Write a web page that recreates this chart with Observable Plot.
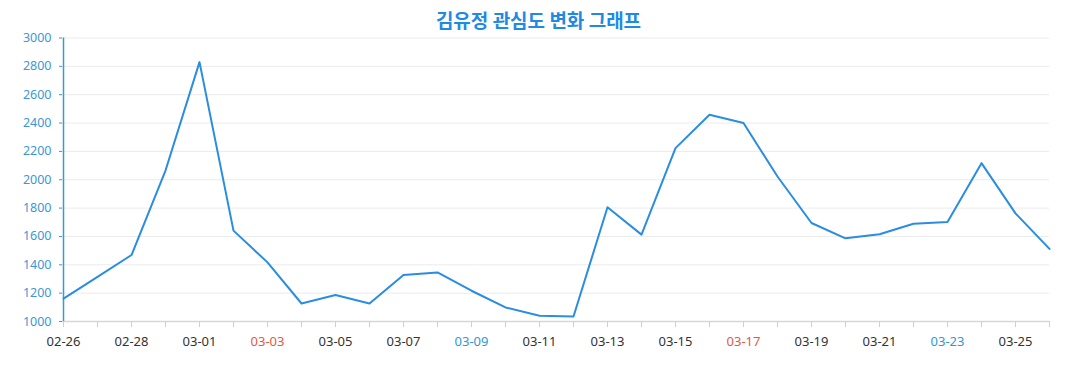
<!DOCTYPE html>
<html>
<head>
<meta charset="utf-8">
<script src="https://cdn.jsdelivr.net/npm/d3@7"></script>
<script src="https://cdn.jsdelivr.net/npm/@observablehq/plot@0.6"></script>
<style>
  html, body { margin: 0; padding: 0; background: #fff; }
  #wrap { position: relative; width: 1077px; height: 390px; }
  #title { position: absolute; left: 0; top: 6px; width: 1077px; text-align: center;
    font-family: "Noto Sans CJK KR", "Noto Sans", sans-serif; font-weight: 700; font-size: 19px; color: #1f8ae3; }
  #chart { position: absolute; left: 0; top: 0; }
</style>
</head>
<body>
<div id="wrap"><div id="chart"></div><div id="title">김유정 관심도 변화 그래프</div></div>
<script>
const dates = ["02-26","02-27","02-28","02-29","03-01","03-02","03-03","03-04","03-05","03-06",
  "03-07","03-08","03-09","03-10","03-11","03-12","03-13","03-14","03-15","03-16",
  "03-17","03-18","03-19","03-20","03-21","03-22","03-23","03-24","03-25","03-26"];
const values = [1162, 1315, 1469, 2065, 2830, 1641, 1417, 1127, 1187, 1127,
  1328, 1346, 1217, 1099, 1040, 1035, 1806, 1613, 2223, 2459,
  2400, 2023, 1695, 1587, 1615, 1690, 1702, 2117, 1763, 1512];
const yTicks = [1000, 1200, 1400, 1600, 1800, 2000, 2200, 2400, 2600, 2800, 3000];
const labelDates = dates.filter((d, i) => i % 2 === 0);
const sundayLabels = ["03-03", "03-17"];
const saturdayLabels = ["03-09", "03-23"];
const plainLabels = labelDates.filter(d => !sundayLabels.includes(d) && !saturdayLabels.includes(d));

const data = dates.map((d, i) => ({date: d, value: values[i]}));
const font = "'Noto Sans', 'Open Sans', sans-serif";

const chart = Plot.plot({
  width: 1077,
  height: 390,
  marginTop: 37.5,
  marginBottom: 69,
  marginLeft: 62,
  marginRight: 28,
  style: {fontFamily: font, background: "transparent", overflow: "visible"},
  x: {type: "point", domain: dates, padding: 0, label: null},
  y: {domain: [1000, 3000], label: null},
  marks: [
    Plot.gridY(yTicks, {stroke: "#ebebeb", strokeOpacity: 1}),
    Plot.ruleY([1000], {stroke: "#d6d6d6", strokeWidth: 1.5}),
    Plot.axisX({ticks: dates, tickSize: 6, tickFormat: () => "", stroke: "#d0d0d0", strokeOpacity: 1, label: null}),
    Plot.axisX({ticks: plainLabels, tickSize: 0, tickPadding: 15, fill: "#333", fontSize: 13, label: null}),
    Plot.axisX({ticks: sundayLabels, tickSize: 0, tickPadding: 15, fill: "#e05a43", fontSize: 13, label: null}),
    Plot.axisX({ticks: saturdayLabels, tickSize: 0, tickPadding: 15, fill: "#2b9ad6", fontSize: 13, label: null}),
    Plot.axisY({ticks: yTicks, tickSize: 3, tickPadding: 8, tickFormat: d => String(d), fill: "#3b97d6", stroke: "#3b97d6", fontSize: 12.5, label: null}),
    Plot.ruleX([dates[0]], {y1: 1000, y2: 3000, stroke: "#3b97d6", strokeWidth: 1.5}),
    Plot.line(data, {x: "date", y: "value", stroke: "#2a8de0", strokeWidth: 2})
  ]
});
document.getElementById("chart").appendChild(chart);
</script>
</body>
</html>
